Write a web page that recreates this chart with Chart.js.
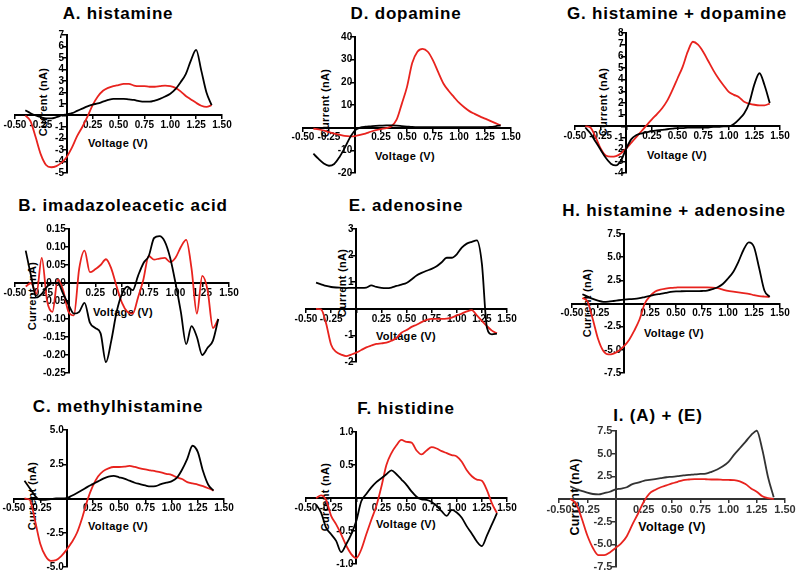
<!DOCTYPE html>
<html>
<head>
<meta charset="utf-8">
<script src="https://cdn.jsdelivr.net/npm/chart.js@4/dist/chart.umd.min.js"></script>
<style>
  html, body { margin: 0; padding: 0; background: #fff; }
  #fig { position: relative; width: 800px; height: 575px; overflow: hidden; }
  #fig canvas { position: absolute; }
  .lbl { position: absolute; white-space: nowrap; color: #000; font-family: "Liberation Sans", Arial, sans-serif; line-height: 1; }
</style>
</head>
<body>
<div id="fig"></div>
<script>
// sweep voltages (V), -0.4 -> 1.4 and back
const voltageUp = [-0.4, -0.35, -0.3, -0.25, -0.2, -0.15, -0.1, -0.05, 0,
  0.05, 0.1, 0.15, 0.2, 0.25, 0.3, 0.35, 0.4, 0.45, 0.5,
  0.55, 0.6, 0.65, 0.7, 0.75, 0.8, 0.85, 0.9, 0.95, 1.0,
  1.05, 1.1, 1.15, 1.2, 1.25, 1.3, 1.35, 1.4];
const voltageDown = voltageUp.slice().reverse();

// currents (nA); "Up" = black trace, "Down" = red trace
const histamineUp = [0.45, 0.2, 0.0, -0.15, -0.25, -0.25, -0.15, 0.0, 0.1,
  0.2, 0.4, 0.6, 0.8, 0.95, 1.05, 1.2, 1.35, 1.45, 1.45,
  1.45, 1.4, 1.35, 1.25, 1.2, 1.2, 1.3, 1.45, 1.65, 1.9,
  2.3, 2.9, 3.6, 4.8, 5.7, 3.9, 2.0, 0.9];
const histamineDown = [0.9, 0.75, 0.85, 1.1, 1.4, 1.7, 2.1, 2.4, 2.55,
  2.6, 2.55, 2.5, 2.5, 2.55, 2.55, 2.6, 2.75, 2.75, 2.65,
  2.55, 2.4, 2.15, 1.65, 0.9, -0.1, -1.0, -1.8, -2.8, -3.6,
  -4.1, -4.4, -4.5, -4.3, -3.4, -1.9, -0.5, 0.0];

const imidazoleUp = [0.09, 0.02, -0.04, -0.03, -0.01, 0.0, 0.0, -0.03, -0.06,
  -0.085, -0.08, -0.055, -0.11, -0.125, -0.14, -0.22, -0.16, -0.08, -0.03,
  -0.01, -0.02, 0.02, 0.055, 0.075, 0.125, 0.13, 0.115, 0.07, 0.0,
  -0.08, -0.17, -0.12, -0.15, -0.2, -0.18, -0.16, -0.1];
const imidazoleDown = [-0.1, -0.125, -0.02, 0.02, -0.085, 0.04, 0.12, 0.1, 0.07,
  0.058, 0.07, 0.068, 0.065, 0.075, 0.01, -0.04, -0.085, -0.08, -0.055,
  -0.01, 0.04, 0.066, 0.05, 0.038, 0.03, 0.09, 0.04, -0.09, -0.08,
  -0.02, 0.01, -0.08, -0.05, 0.07, -0.03, 0.0, -0.01];

const methylUp = [1.3, 0.75, 0.2, -0.1, -0.1, -0.05, 0.0, 0.0, 0.02,
  0.2, 0.4, 0.62, 0.85, 1.05, 1.25, 1.45, 1.6, 1.65, 1.55,
  1.45, 1.3, 1.15, 1.05, 0.95, 0.88, 0.9, 1.05, 1.15, 1.25,
  1.5, 2.1, 2.9, 3.85, 3.4, 2.0, 1.0, 0.58];
const methylDown = [0.58, 0.75, 0.9, 1.02, 1.1, 1.2, 1.42, 1.55, 1.72,
  1.8, 1.9, 1.98, 2.05, 2.12, 2.2, 2.3, 2.38, 2.32, 2.3,
  2.3, 2.2, 2.0, 1.6, 0.9, -0.1, -1.4, -2.5, -3.2, -3.75,
  -4.2, -4.5, -4.55, -4.2, -3.3, -1.6, -0.1, 0.0];

const dopamineUp = [-11.5, -13.8, -15.8, -16.8, -16, -13, -9, -4.5, -1.2,
  0, 0.4, 0.6, 0.8, 0.9, 1.0, 1.0, 0.9, 0.7, 0.5,
  0.3, 0.2, 0.2, 0.2, 0.2, 0.2, 0.2, 0.2, 0.2, 0.2,
  0.2, 0.2, 0.2, 0.2, 0.2, 0.3, 0.6, 1.0];
const dopamineDown = [1.0, 2.0, 3.0, 4.0, 5.0, 6.1, 7.3, 9.0, 11.0,
  13.6, 16.3, 19.5, 24.5, 29.7, 33.5, 34.8, 33.5, 28.5, 18,
  10.5, 3.5, 0.6, -0.2, -0.6, -1.1, -1.8, -2.6, -3.2, -3.7,
  -3.8, -3.6, -3.1, -2.6, -2.0, -1.3, -0.8, -0.4];

const adenosineUp = [0.98, 0.92, 0.86, 0.82, 0.8, 0.79, 0.78, 0.79, 0.79,
  0.79, 0.8, 0.88, 0.82, 0.79, 0.78, 0.8, 0.86, 0.91, 0.97,
  1.1, 1.25, 1.35, 1.43, 1.5, 1.6, 1.75, 1.92, 1.92, 2.05,
  2.3, 2.45, 2.52, 2.57, 1.7, -0.7, -0.96, -0.93];
const adenosineDown = [-0.92, -0.82, -0.65, -0.45, -0.25, -0.05, -0.1, -0.18, -0.25,
  -0.33, -0.37, -0.38, -0.38, -0.38, -0.42, -0.5, -0.6, -0.68, -0.8,
  -0.9, -1.1, -1.2, -1.27, -1.3, -1.32, -1.38, -1.45, -1.55, -1.65,
  -1.72, -1.78, -1.72, -1.62, -1.35, -0.55, -0.02, 0.0];

const histidineUp = [-0.1, -0.22, -0.45, -0.55, -0.65, -0.82, -0.7, -0.55, -0.35,
  -0.05, 0.06, 0.16, 0.24, 0.3, 0.36, 0.42, 0.36, 0.28, 0.2,
  0.1, 0.02, -0.02, -0.03, -0.06, -0.12, -0.2, -0.27, -0.18, -0.22,
  -0.3, -0.43, -0.54, -0.66, -0.73, -0.57, -0.4, -0.23];
const histidineDown = [-0.23, -0.08, 0.12, 0.26, 0.28, 0.33, 0.42, 0.55, 0.63,
  0.65, 0.68, 0.71, 0.75, 0.77, 0.72, 0.66, 0.72, 0.84, 0.85,
  0.88, 0.8, 0.68, 0.5, 0.17, -0.12, -0.33, -0.55, -0.78, -0.91,
  -0.85, -0.72, -0.55, -0.4, -0.27, -0.03, 0.04, 0.0];

const histDopaUp = [-0.1, -0.6, -1.3, -2.0, -2.7, -3.2, -3.35, -2.9, -1.9,
  -1.1, -0.75, -0.6, -0.5, -0.4, -0.35, -0.3, -0.25, -0.2, -0.15,
  -0.15, -0.1, -0.1, -0.1, -0.1, -0.1, -0.05, -0.05, 0.0, 0.0,
  0.2, 0.6, 1.1, 2.0, 3.6, 4.55, 3.5, 2.0];
const histDopaDown = [1.95, 1.8, 1.8, 1.85, 1.95, 2.1, 2.5, 2.7, 2.95,
  3.5, 4.1, 4.8, 5.6, 6.4, 7.0, 7.25, 6.4, 5.1, 4.1,
  3.1, 2.2, 1.55, 1.05, 0.6, 0.1, -0.4, -0.9, -1.4, -1.9,
  -2.3, -2.55, -2.6, -2.5, -1.9, -0.9, -0.1, 0.0];

const histAdenoUp = [1.0, 0.75, 0.5, 0.3, 0.18, 0.2, 0.27, 0.35, 0.42,
  0.47, 0.5, 0.58, 0.7, 0.82, 0.95, 1.05, 1.15, 1.25, 1.3,
  1.32, 1.33, 1.33, 1.33, 1.35, 1.4, 1.55, 1.75, 2.1, 2.7,
  3.4, 4.5, 5.8, 6.6, 6.1, 3.8, 1.4, 0.72];
const histAdenoDown = [0.72, 0.75, 0.8, 0.9, 1.05, 1.12, 1.2, 1.28, 1.35,
  1.5, 1.65, 1.72, 1.75, 1.75, 1.75, 1.75, 1.75, 1.75, 1.72,
  1.68, 1.6, 1.5, 1.3, 0.8, 0.0, -1.7, -2.9, -3.9, -4.6,
  -5.1, -5.4, -5.5, -5.1, -3.8, -1.7, 0.2, 0.6];

const aPlusEUp = [1.4, 1.1, 0.9, 0.7, 0.55, 0.5, 0.65, 0.8, 1.05,
  1.15, 1.3, 1.65, 1.8, 2.0, 2.1, 2.2, 2.3, 2.4, 2.45,
  2.52, 2.6, 2.65, 2.72, 2.76, 2.8, 3.0, 3.25, 3.6, 4.1,
  4.9, 5.6, 6.3, 7.05, 7.55, 5.4, 2.4, 0.2];
const aPlusEDown = [0.0, 0.1, 0.3, 0.8, 1.17, 1.65, 1.95, 2.08, 2.1,
  2.12, 2.15, 2.15, 2.18, 2.2, 2.2, 2.15, 2.08, 1.9, 1.72,
  1.5, 1.3, 1.0, 0.6, -0.3, -1.6, -2.8, -4.1, -4.9, -5.4,
  -5.9, -6.2, -6.2, -5.4, -4.0, -2.1, -0.5, 0.0];

// x tick range
const xMin = -0.5, xMax = 1.5, xStep = 0.25;

// panel layout: area = [left, right, top, bottom] of the plot in page pixels
const panels = [
  { title: 'A. histamine', up: histamineUp, down: histamineDown, yMin: -5, yMax: 7, yStep: 1, digits: 0,
    area: [15, 222, 35, 173], titleAt: [118, 13], xTitleAt: [118, 143], yTitleAt: [43, 102] },
  { title: 'D. dopamine', up: dopamineUp, down: dopamineDown, yMin: -20, yMax: 40, yStep: 10, digits: 0,
    area: [303, 511, 37, 173], titleAt: [406, 13], xTitleAt: [405, 156], yTitleAt: [325, 103] },
  { title: 'G. histamine + dopamine', up: histDopaUp, down: histDopaDown, yMin: -4, yMax: 8, yStep: 1, digits: 0,
    area: [575, 780, 33, 173], titleAt: [677, 13], xTitleAt: [677, 155], yTitleAt: [603, 102] },
  { title: 'B. imadazoleacetic acid', up: imidazoleUp, down: imidazoleDown, yMin: -0.25, yMax: 0.15, yStep: 0.05, digits: 2, zero: true,
    area: [15, 229, 229, 373], titleAt: [123, 205], xTitleAt: [123, 312], yTitleAt: [32, 296] },
  { title: 'E. adenosine', up: adenosineUp, down: adenosineDown, yMin: -2, yMax: 3, yStep: 1, digits: 0,
    area: [306, 507, 229, 362], titleAt: [406, 205], xTitleAt: [406, 336], yTitleAt: [342, 283] },
  { title: 'H. histamine + adenosine', up: histAdenoUp, down: histAdenoDown, yMin: -7.5, yMax: 7.5, yStep: 2.5, digits: 1,
    area: [572, 780, 234, 373], titleAt: [674, 210], xTitleAt: [674, 333], yTitleAt: [587, 303] },
  { title: 'C. methylhistamine', up: methylUp, down: methylDown, yMin: -5, yMax: 5, yStep: 2.5, digits: 1,
    area: [14, 224, 430, 567], titleAt: [118, 406], xTitleAt: [118, 526], yTitleAt: [32, 496] },
  { title: 'F. histidine', up: histidineUp, down: histidineDown, yMin: -1, yMax: 1, yStep: 0.5, digits: 1,
    area: [306, 507, 432, 564], titleAt: [406, 408], xTitleAt: [406, 524], yTitleAt: [325, 497] },
  { title: 'I. (A) + (E)', up: aPlusEUp, down: aPlusEDown, yMin: -7.5, yMax: 7.5, yStep: 2.5, digits: 1, big: true, ink: '#333',
    area: [559, 785, 431, 567], titleAt: [658, 415], xTitleAt: [672, 527], yTitleAt: [575, 497] }
];

Chart.defaults.font.family = '"Liberation Sans", Arial, sans-serif';

const fig = document.getElementById('fig');

function addText(txt, at, css, rotate) {
  const d = document.createElement('div');
  d.className = 'lbl';
  d.textContent = txt;
  d.style.left = at[0] + 'px';
  d.style.top = at[1] + 'px';
  d.style.transform = 'translate(-50%, -50%)' + (rotate ? ' rotate(-90deg)' : '');
  d.style.cssText += css;
  fig.appendChild(d);
}

function toPoints(vs, is) {
  return vs.map((v, i) => ({ x: v, y: is[i] }));
}

panels.forEach(p => {
  addText(p.title, p.titleAt, 'font-size:17px;font-weight:bold;letter-spacing:0.8px;');
  const axFont = p.big ? 12.5 : 11;
  addText('Voltage (V)', p.xTitleAt, `font-size:${axFont}px;font-weight:bold;letter-spacing:0.3px;`);
  addText('Current (nA)', p.yTitleAt, `font-size:${axFont}px;font-weight:bold;letter-spacing:0.3px;`, true);
});

panels.forEach(p => {
  const [l, r, t, b] = p.area;
  const pad = 30;
  const ink = p.ink || '#000';
  const tickFont = { size: p.big ? 11 : 10, weight: 'bold' };

  const cv = document.createElement('canvas');
  cv.width = r - l + 2 * pad;
  cv.height = b - t + 2 * pad;
  cv.style.left = (l - pad) + 'px';
  cv.style.top = (t - pad) + 'px';
  fig.appendChild(cv);

  new Chart(cv, {
    type: 'scatter',
    data: {
      datasets: [
        { data: toPoints(voltageUp, p.up), showLine: true, borderColor: ink, borderWidth: 1.8,
          pointRadius: 0, cubicInterpolationMode: 'monotone', clip: false },
        { data: toPoints(voltageDown, p.down), showLine: true, borderColor: '#e8231e', borderWidth: 1.8,
          pointRadius: 0, cubicInterpolationMode: 'monotone', clip: false }
      ]
    },
    options: {
      responsive: false,
      animation: false,
      devicePixelRatio: 1,
      layout: { padding: pad },
      plugins: { legend: { display: false }, tooltip: { enabled: false } },
      scales: {
        x: {
          type: 'linear', min: xMin, max: xMax, position: { y: 0 },
          ticks: {
            stepSize: xStep, autoSkip: false, minRotation: 0, maxRotation: 0,
            color: ink, font: tickFont, padding: 1,
            callback: v => Math.abs(v) < 1e-9 ? '' : v.toFixed(2)
          },
          grid: { drawOnChartArea: false, tickLength: 3, color: ink, lineWidth: 1.5 },
          border: { color: ink, width: 2 }
        },
        y: {
          type: 'linear', min: p.yMin, max: p.yMax, position: { x: 0 },
          ticks: {
            stepSize: p.yStep, autoSkip: false, color: ink, font: tickFont,
            callback: v => (Math.abs(v) < 1e-9 && !p.zero) ? '' : v.toFixed(p.digits) + ' '
          },
          grid: { drawOnChartArea: false, tickLength: 4, color: ink, lineWidth: 1.5 },
          border: { color: ink, width: 2 }
        }
      }
    }
  });
});
</script>
</body>
</html>
